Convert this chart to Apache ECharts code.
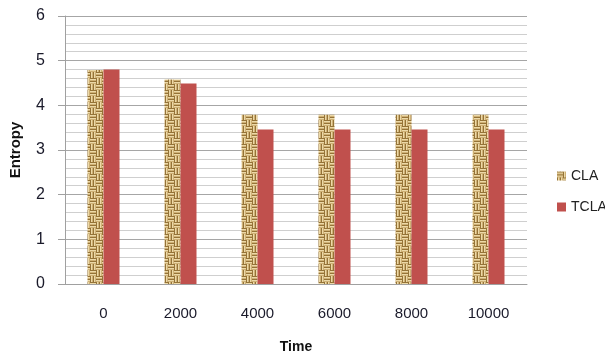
<!DOCTYPE html>
<html><head><meta charset="utf-8">
<script src="https://cdn.jsdelivr.net/npm/echarts@6/dist/echarts.min.js"></script>
<style>html,body{margin:0;padding:0;background:#fff}#c{width:605px;height:354px}</style>
</head><body><div id="c"></div>
<script>
const categories = ['0','2000','4000','6000','8000','10000'];
const claValues = [4.79, 4.58, 3.79, 3.79, 3.79, 3.79];
const tclaValues = [4.8, 4.49, 3.46, 3.46, 3.46, 3.46];
const seriesNames = ['CLA','TCLA'];

function makeWeave(){
  const c = document.createElement('canvas');
  c.width = 12; c.height = 12;
  const g = c.getContext('2d');
  g.fillStyle = '#cfb176'; g.fillRect(0,0,12,12);
  g.fillStyle = '#957337';
  g.fillRect(0,0,6,1); g.fillRect(0,3,6,1);
  g.fillRect(6,6,6,1); g.fillRect(6,9,6,1);
  g.fillRect(6,0,1,6); g.fillRect(9,0,1,6);
  g.fillRect(0,6,1,6); g.fillRect(3,6,1,6);
  g.fillStyle = '#ecd9a8';
  g.fillRect(0,1,6,1); g.fillRect(0,4,6,1);
  g.fillRect(6,7,6,1); g.fillRect(6,10,6,1);
  g.fillRect(7,0,1,6); g.fillRect(10,0,1,6);
  g.fillRect(1,6,1,6); g.fillRect(4,6,1,6);
  return c;
}
const weave = makeWeave();
const chart = echarts.init(document.getElementById('c'), null, {renderer:'canvas'});
const font = 'Liberation Sans';
chart.setOption({
  animation:false,
  textStyle:{fontFamily:font},
  grid:{left:65, right:78, top:16, bottom:70, containLabel:false, outerBoundsMode:'none'},
  legend:{
    orient:'vertical', left:552, top:164, itemWidth:9, itemHeight:9, itemGap:17,
    icon:'rect', textStyle:{fontSize:14, color:'#222', fontFamily:font},
    data:seriesNames
  },
  xAxis:{
    type:'category', data:categories,
    name:'Time', nameLocation:'middle', nameGap:56,
    nameTextStyle:{fontSize:14, fontWeight:'bold', color:'#111', fontFamily:font},
    axisLine:{lineStyle:{color:'#a0a0a0', width:1}},
    axisTick:{show:false},
    axisLabel:{fontSize:15, color:'#1a1a2a', margin:22, fontFamily:font}
  },
  yAxis:{
    type:'value', min:0, max:6, interval:1,
    name:'Entropy', nameLocation:'middle', nameGap:42, nameRotate:90,
    nameTextStyle:{fontSize:15, fontWeight:'bold', color:'#111', fontFamily:font},
    axisLine:{show:true, lineStyle:{color:'#a0a0a0'}},
    axisTick:{show:true, inside:false, length:7, lineStyle:{color:'#a0a0a0'}},
    axisLabel:{fontSize:16, color:'#1a1a2a', margin:20, fontFamily:font},
    splitLine:{show:true, lineStyle:{color:'#a6a6a6', width:1}},
    minorTick:{show:false, splitNumber:5},
    minorSplitLine:{show:true, lineStyle:{color:'#cfcfcf', width:1}}
  },
  series:[
    {name:seriesNames[0], type:'bar', data:claValues, barWidth:16, barGap:'0%',
     itemStyle:{color:{image:weave, repeat:'repeat'}}},
    {name:seriesNames[1], type:'bar', data:tclaValues, barWidth:16, barGap:'0%',
     itemStyle:{color:'#c0504d'}}
  ]
});
</script></body></html>
